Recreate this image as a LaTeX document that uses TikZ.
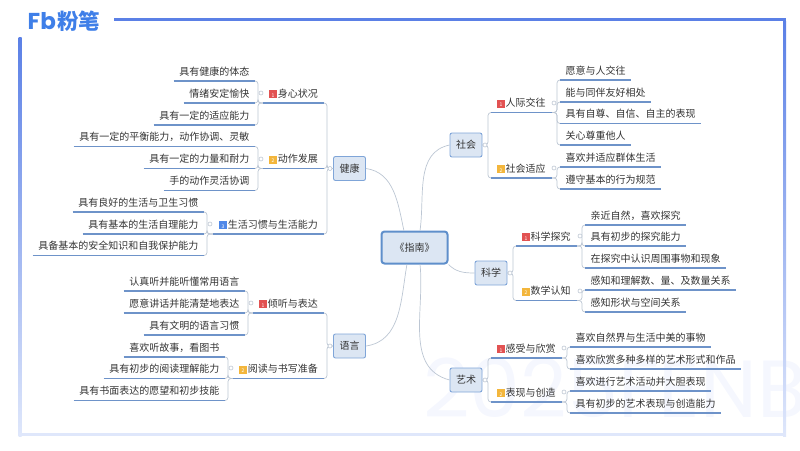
\documentclass[tikz,border=0pt]{standalone}
\usepackage{fontspec}
\setmainfont{Noto Sans CJK SC}
\newfontfamily\latinbold{Poppins}
\definecolor{framebl}{HTML}{5B80E6}
\definecolor{framepl}{HTML}{DFE7FB}
\definecolor{logobl}{HTML}{3F7FE8}
\definecolor{markbl}{HTML}{F5F7FE}
\definecolor{linebl}{HTML}{6E93C9}
\definecolor{linegr}{HTML}{BCC6D3}
\definecolor{boxfill}{HTML}{DCE6F3}
\definecolor{boxline}{HTML}{7FA5D8}
\definecolor{rootline}{HTML}{5F8FCB}
\definecolor{inktext}{HTML}{333333}
\definecolor{badgered}{HTML}{E25252}
\definecolor{badgeor}{HTML}{F3B63C}
\definecolor{badgebl}{HTML}{4F88E8}
\newcommand{\badge}[2]{\raisebox{0.4pt}{\fboxsep=0pt\colorbox{#1}{\makebox[7.5pt]{\rule[-1pt]{0pt}{8pt}\fontsize{5}{5}\selectfont\color{white}#2}}}\hspace{1pt}}
\tikzset{
  leaf/.style={font=\fontsize{10}{12}\selectfont, text=inktext, inner xsep=5.5pt, inner ysep=5pt, text height=8.6pt, text depth=0.4pt},
  topic/.style={leaf, inner xsep=6pt},
  catbox/.style={draw=boxline, fill=boxfill, line width=0.9pt, rounded corners=2pt, minimum width=32pt, minimum height=24pt, inner sep=0pt, text=inktext, font=\fontsize{10}{12}\selectfont},
  rootbox/.style={catbox, draw=rootline, line width=2pt, minimum width=66pt, minimum height=32pt, rounded corners=3pt},
  hub/.style={circle, draw=linegr, fill=white, line width=0.6pt, minimum size=4pt, inner sep=0pt},
  uline/.style={draw=linebl, line width=1.1pt},
  bracket/.style={draw=linegr, line width=0.7pt, rounded corners=3pt},
  rootlink/.style={draw=linegr, line width=0.7pt}
}
\begin{document}
\begin{tikzpicture}[x=1pt,y=-1pt]
  \useasboundingbox (0,0) rectangle (800,450);

  % frame and logo
  \begin{scope}
    \clip (0,0) rectangle (800,450);
    \node[anchor=west, inner sep=0pt, text=markbl, font=\latinbold\fontsize{81}{81}\selectfont] (mark) at (423,388) {2025FENBI};
  \end{scope}
  \fill[framebl] (114,17.5) rectangle (786,21);
  \shade[top color=framebl, bottom color=framepl] (783,21) rectangle (786,436);
  \shade[top color=framebl, bottom color=framepl] (18.5,37) rectangle (21.5,436);
  \fill[framepl] (18.5,433) rectangle (786,436);
  \node[anchor=west, inner sep=0pt, text=logobl, font=\latinbold\bfseries\fontsize{23}{23}\selectfont] (logofb) at (27.5,21) {Fb};
  \node[anchor=west, inner sep=0pt, text=logobl, font=\bfseries\fontsize{21.5}{22}\selectfont] (logoname) at (57,21) {粉笔};

  % root and categories
  \node[rootbox] (root) at (414.5,247.5) {《指南》};
  \node[catbox] (jk) at (349.5,168.5) {健康};
  \node[catbox] (yy) at (349.5,346) {语言};
  \node[catbox] (sh) at (466,145) {社会};
  \node[catbox] (kx) at (491,273) {科学};
  \node[catbox] (ys) at (466,380) {艺术};

  % left topics
  \node[topic, anchor=south east] (jk1) at (324,103) {\badge{badgered}{1}身心状况};
  \node[topic, anchor=south east] (jk2) at (324,168.5) {\badge{badgeor}{2}动作发展};
  \node[topic, anchor=south east] (jk3) at (324,234) {\badge{badgebl}{3}生活习惯与生活能力};
  \node[topic, anchor=south east] (yy1) at (324,313) {\badge{badgered}{1}倾听与表达};
  \node[topic, anchor=south east] (yy2) at (324,378.5) {\badge{badgeor}{2}阅读与书写准备};

  % right topics
  \node[topic, anchor=south west] (sh1) at (491,112.5) {\badge{badgered}{1}人际交往};
  \node[topic, anchor=south west] (sh2) at (491,178) {\badge{badgeor}{2}社会适应};
  \node[topic, anchor=south west] (kx1) at (516,246) {\badge{badgered}{1}科学探究};
  \node[topic, anchor=south west] (kx2) at (516,300.5) {\badge{badgeor}{2}数学认知};
  \node[topic, anchor=south west] (ys1) at (491,358) {\badge{badgered}{1}感受与欣赏};
  \node[topic, anchor=south west] (ys2) at (491,402) {\badge{badgeor}{2}表现与创造};

  % left leaves
  \node[leaf, anchor=south east] (jk11) at (255,81) {具有健康的体态};
  \node[leaf, anchor=south east] (jk12) at (255,103) {情绪安定愉快};
  \node[leaf, anchor=south east] (jk13) at (255,125) {具有一定的适应能力};
  \node[leaf, anchor=south east] (jk21) at (255,146.5) {具有一定的平衡能力，动作协调、灵敏};
  \node[leaf, anchor=south east] (jk22) at (255,168.5) {具有一定的力量和耐力};
  \node[leaf, anchor=south east] (jk23) at (255,190.5) {手的动作灵活协调};
  \node[leaf, anchor=south east] (jk31) at (204,212) {具有良好的生活与卫生习惯};
  \node[leaf, anchor=south east] (jk32) at (204,234) {具有基本的生活自理能力};
  \node[leaf, anchor=south east] (jk33) at (204,255.5) {具备基本的安全知识和自我保护能力};
  \node[leaf, anchor=south east] (yy11) at (245,291) {认真听并能听懂常用语言};
  \node[leaf, anchor=south east] (yy12) at (245,313) {愿意讲话并能清楚地表达};
  \node[leaf, anchor=south east] (yy13) at (245,335) {具有文明的语言习惯};
  \node[leaf, anchor=south east] (yy21) at (225,357) {喜欢听故事，看图书};
  \node[leaf, anchor=south east] (yy22) at (225,378.5) {具有初步的阅读理解能力};
  \node[leaf, anchor=south east] (yy23) at (225,400.5) {具有书面表达的愿望和初步技能};

  % right leaves
  \node[leaf, anchor=south west] (sh11) at (560,80) {愿意与人交往};
  \node[leaf, anchor=south west] (sh12) at (560,102) {能与同伴友好相处};
  \node[leaf, anchor=south west] (sh13) at (560,123.5) {具有自尊、自信、自主的表现};
  \node[leaf, anchor=south west] (sh14) at (560,145) {关心尊重他人};
  \node[leaf, anchor=south west] (sh21) at (560,167) {喜欢并适应群体生活};
  \node[leaf, anchor=south west] (sh22) at (560,189) {遵守基本的行为规范};
  \node[leaf, anchor=south west] (kx11) at (585,225) {亲近自然，喜欢探究};
  \node[leaf, anchor=south west] (kx12) at (585,246) {具有初步的探究能力};
  \node[leaf, anchor=south west] (kx13) at (585,268) {在探究中认识周围事物和现象};
  \node[leaf, anchor=south west] (kx21) at (585,290) {感知和理解数、量、及数量关系};
  \node[leaf, anchor=south west] (kx22) at (585,312) {感知形状与空间关系};
  \node[leaf, anchor=south west] (ys11) at (570,347) {喜欢自然界与生活中美的事物};
  \node[leaf, anchor=south west] (ys12) at (570,369) {喜欢欣赏多种多样的艺术形式和作品};
  \node[leaf, anchor=south west] (ys21) at (570,391) {喜欢进行艺术活动并大胆表现};
  \node[leaf, anchor=south west] (ys22) at (570,413) {具有初步的艺术表现与创造能力};

  % root links
  \draw[rootlink] (jk.east) to[out=-8, in=102] (root.122);
  \draw[rootlink] (yy.east) to[out=8, in=-100] (root.246);
  \draw[rootlink] (sh.west) to[out=192, in=82] (root.72);
  \draw[rootlink] (kx.west) to[out=180, in=-45] (root.south east);
  \draw[rootlink] (ys.west) to[out=165, in=-84] (root.288);

  % brackets
  \foreach \a/\b in {jk11/jk1,jk12/jk1,jk13/jk1,jk21/jk2,jk22/jk2,jk23/jk2,jk31/jk3,jk32/jk3,jk33/jk3,yy11/yy1,yy12/yy1,yy13/yy1,yy21/yy2,yy22/yy2,yy23/yy2}
    \draw[bracket] (\a.south east) -- ++(3,0) |- (\b.south west);
  \foreach \a/\b in {sh11/sh1,sh12/sh1,sh13/sh1,sh14/sh1,sh21/sh2,sh22/sh2,kx11/kx1,kx12/kx1,kx13/kx1,kx21/kx2,kx22/kx2,ys11/ys1,ys12/ys1,ys21/ys2,ys22/ys2}
    \draw[bracket] (\a.south west) -- ++(-3,0) |- (\b.south east);
  \foreach \a/\b in {jk1/jk,jk2/jk,jk3/jk,yy1/yy,yy2/yy}
    \draw[bracket] (\a.south east) -- ++(3,0) |- (\b.west);
  \foreach \a/\b in {sh1/sh,sh2/sh,kx1/kx,kx2/kx,ys1/ys,ys2/ys}
    \draw[bracket] (\a.south west) -- ++(-3,0) |- (\b.east);

  % underlines
  \foreach \n in {jk1,jk2,jk3,yy1,yy2,sh1,sh2,kx1,kx2,ys1,ys2,jk11,jk12,jk13,jk21,jk22,jk23,jk31,jk32,jk33,yy11,yy12,yy13,yy21,yy22,yy23,sh11,sh12,sh13,sh14,sh21,sh22,kx11,kx12,kx13,kx21,kx22,ys11,ys12,ys21,ys22}
    \draw[uline] (\n.south west) -- (\n.south east);

  % hubs
  \node[hub] (hjk) at (330,168.5) {};
  \node[hub] (hyy) at (330,346) {};
  \node[hub] (hsh) at (485,145) {};
  \node[hub] (hkx) at (510,273) {};
  \node[hub] (hys) at (485,380) {};
  \node[hub] (hjk1) at (261,93) {};
  \node[hub] (hjk2) at (261,159) {};
  \node[hub] (hjk3) at (210,224) {};
  \node[hub] (hyy1) at (251,303) {};
  \node[hub] (hyy2) at (231,368) {};
  \node[hub] (hsh1) at (554,103) {};
  \node[hub] (hsh2) at (554,168) {};
  \node[hub] (hkx1) at (580,236) {};
  \node[hub] (hkx2) at (580,291) {};
  \node[hub] (hys1) at (564,348) {};
  \node[hub] (hys2) at (564,392) {};
\end{tikzpicture}
\end{document}
